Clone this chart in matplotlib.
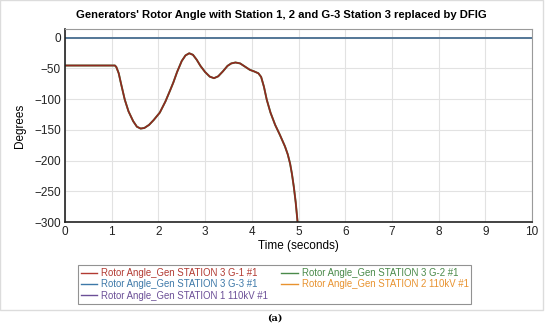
import matplotlib.pyplot as plt
from matplotlib.patches import Rectangle

# rotor angle traces (time in s, angle in degrees)
t_g1 = [0.0, 1.07, 1.10, 1.15, 1.20, 1.28, 1.36, 1.46, 1.54, 1.62, 1.70,
        1.80, 1.90, 2.03, 2.15, 2.25, 2.32, 2.40, 2.50, 2.58, 2.66, 2.74,
        2.82, 2.90, 3.00, 3.10, 3.19, 3.28, 3.38, 3.48, 3.56, 3.65, 3.75,
        3.85, 3.96, 4.05, 4.14, 4.20, 4.26, 4.32, 4.40, 4.50, 4.60, 4.71,
        4.77, 4.82, 4.86, 4.90, 4.94, 4.98]
a_g1 = [-45.4, -45.4, -48, -58, -75, -101, -120, -136, -145, -148, -147,
        -142, -134, -122, -104, -86, -73, -56, -38, -29, -25.5, -28,
        -36, -46, -56, -63.5, -66, -63, -55, -46, -42, -40.5, -42,
        -47, -52.5, -55, -58, -64, -80, -101, -122, -142, -158, -177,
        -190, -205, -222, -243, -268, -300]
t_flat = [0.0, 10.0]
a_g3 = [0.0, 0.0]
a_st1 = [0.0, 0.0]
a_st2 = [0.0, 0.0]

labels = ["Rotor Angle_Gen STATION 3 G-1 #1",
          "Rotor Angle_Gen STATION 3 G-3 #1",
          "Rotor Angle_Gen STATION 1 110kV #1",
          "Rotor Angle_Gen STATION 3 G-2 #1",
          "Rotor Angle_Gen STATION 2 110kV #1"]
colors = ["#b23a32", "#3d78a8", "#6b4f97", "#4a8a4a", "#e8922e"]

plt.rcParams["font.family"] = ["Liberation Sans", "DejaVu Sans"]

fig = plt.figure(figsize=(5.5, 3.28), dpi=100)
ax = fig.add_axes([65 / 550, 1 - 222 / 328, (532 - 65) / 550, (222 - 29) / 328])

# outer panel frame
fig.patches.append(Rectangle((0.0, 1 - 310 / 328), 543 / 550, 310 / 328,
                             transform=fig.transFigure, fill=False,
                             edgecolor="#dcdcdc", lw=1.0))

l_st2, = ax.plot(t_flat, a_st2, color=colors[4], lw=1.2)
l_st1, = ax.plot(t_flat, a_st1, color=colors[2], lw=1.2)
l_g3, = ax.plot(t_flat, a_g3, color="#4f7f9c", lw=1.2)
l_g2, = ax.plot(t_g1, a_g1, color=colors[3], lw=1.4)
l_g1, = ax.plot(t_g1, a_g1, color="#902820", lw=1.2)

ax.set_xlim(0, 10)
ax.set_ylim(-300, 14)
ax.set_xticks(range(0, 11))
ax.set_yticks(range(-300, 1, 50))
ax.tick_params(labelsize=8.5, length=0, pad=3, colors="#222222")
ax.grid(True, color="#e2e2e2", lw=0.8)
ax.set_axisbelow(True)
for side in ["top", "right"]:
    ax.spines[side].set_color("#9a9a9a")
    ax.spines[side].set_linewidth(0.8)
for side in ["left", "bottom"]:
    ax.spines[side].set_color("#222222")
    ax.spines[side].set_linewidth(1.2)

fig.text(281.5 / 550, 1 - 15 / 328,
         "Generators' Rotor Angle with Station 1, 2 and G-3 Station 3 replaced by DFIG",
         ha="center", va="center", fontsize=8.15, fontweight="bold")
ax.set_xlabel("Time (seconds)", fontsize=8.5, labelpad=1)
ax.set_ylabel("Degrees", fontsize=8.5, labelpad=6)

handles = [l_g1, l_g3, l_st1, l_g2, l_st2]
leg = fig.legend(handles, labels, ncol=2, loc="upper left",
                 bbox_to_anchor=(78 / 550, 1 - 265 / 328), fontsize=6.9,
                 frameon=True, fancybox=False, edgecolor="#777777",
                 handlelength=1.7, handletextpad=0.4, columnspacing=1.4,
                 labelspacing=0.15, borderpad=0.3, borderaxespad=0)
leg.get_frame().set_linewidth(0.8)
for txt, c in zip(leg.get_texts(), colors):
    txt.set_color(c)
for line, c in zip(leg.get_lines(), colors):
    line.set_color(c)
    line.set_linewidth(1.0)

fig.text(275 / 550, 1 - 318 / 328, "(a)", ha="center", va="center",
         fontsize=7, fontweight="bold", family="DejaVu Serif")

fig.savefig("out.png", dpi=100)
